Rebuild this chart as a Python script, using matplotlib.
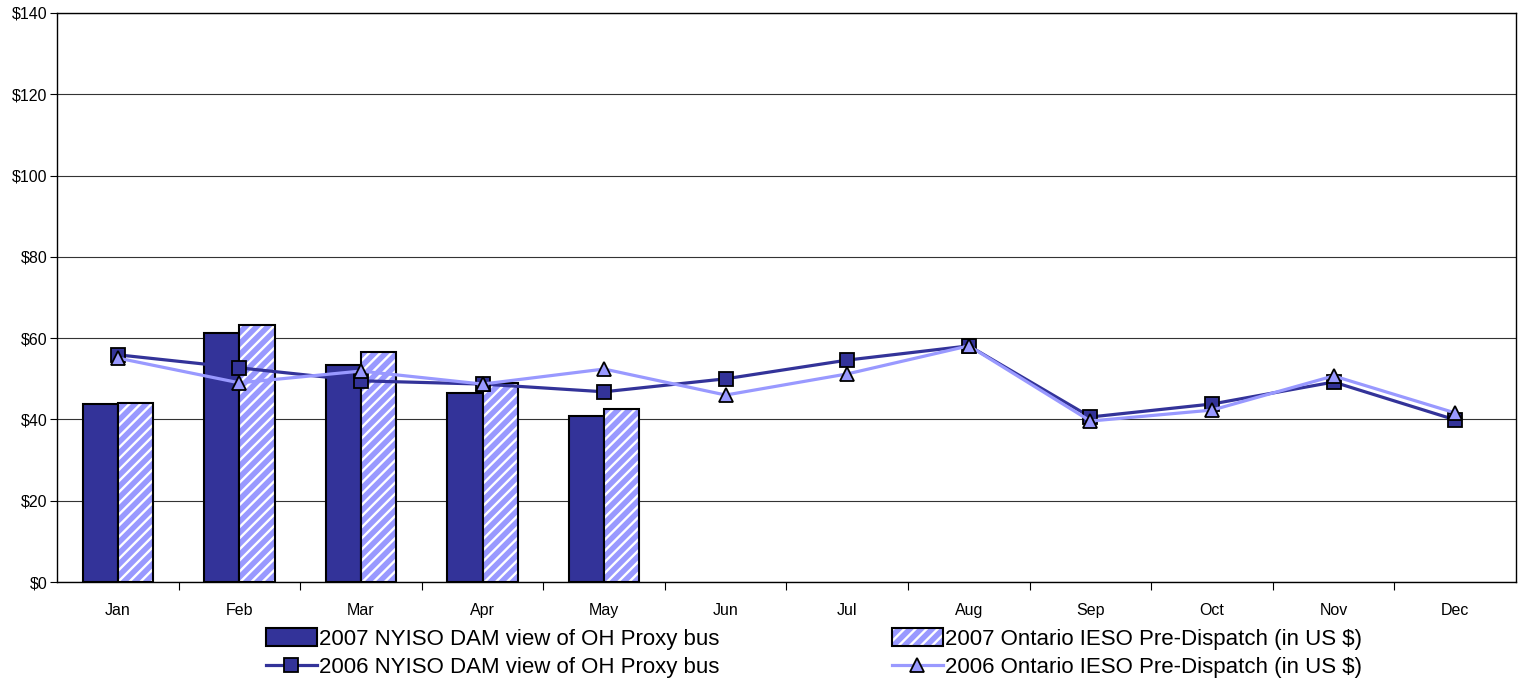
import numpy as np
import matplotlib
matplotlib.use("Agg")
import matplotlib.pyplot as plt
from matplotlib.patches import Patch
from matplotlib.lines import Line2D

plt.rcParams["font.family"] = ["Liberation Sans", "DejaVu Sans"]
plt.rcParams["hatch.linewidth"] = 1.7

months = ["Jan", "Feb", "Mar", "Apr", "May", "Jun",
          "Jul", "Aug", "Sep", "Oct", "Nov", "Dec"]

# 2007 monthly bars (Jan-May only)
nyiso_2007 = [43.8, 61.3, 53.4, 46.5, 40.8]
ieso_2007 = [44.0, 63.2, 56.6, 49.0, 42.6]

# 2006 monthly lines
nyiso_2006 = [55.9, 52.7, 49.5, 48.7, 46.8, 50.0, 54.6, 58.1, 40.6, 43.8, 49.2, 39.9]
ieso_2006 = [55.1, 49.0, 51.9, 48.7, 52.4, 46.0, 51.2, 58.1, 39.6, 42.3, 50.7, 41.6]

yticks = [0, 20, 40, 60, 80, 100, 120, 140]

DARK = "#333399"
LIGHT = "#9999FF"

fig = plt.figure(figsize=(15.25, 6.85), dpi=100)
ax = fig.add_axes([57 / 1525, 1 - 582 / 685, (1516 - 57) / 1525, (582 - 13) / 685])

x = np.arange(len(months))
w = 0.29
xb = np.arange(len(nyiso_2007))

ax.bar(xb - w / 2, nyiso_2007, width=w, color=DARK, edgecolor="black",
       linewidth=1.5, zorder=2)
# hatched bars: white stripes on light fill, then black outline on top
ax.bar(xb + w / 2, ieso_2007, width=w, color=LIGHT, edgecolor="white",
       hatch="///", linewidth=0, zorder=2)
ax.bar(xb + w / 2, ieso_2007, width=w, fill=False, edgecolor="black",
       linewidth=1.5, zorder=2.1)

ax.plot(x, nyiso_2006, color=DARK, lw=2.3, marker="s", ms=10,
        mfc=DARK, mec="black", mew=1.3, zorder=3)
ax.plot(x, ieso_2006, color=LIGHT, lw=2.3, marker="^", ms=10.5,
        mfc=LIGHT, mec="black", mew=1.3, zorder=4)

ax.set_xlim(-0.5, 11.5)
ax.set_ylim(0, 140)
ax.set_yticks(yticks)
ax.set_yticklabels([f"${v}" for v in yticks], fontsize=11.5)
ax.yaxis.grid(True, color="#333333", lw=0.8)
ax.set_axisbelow(True)
ax.tick_params(axis="y", length=5, width=0.8, pad=2)

ax.set_xticks(x)
ax.set_xticklabels(months, fontsize=11.5)
ax.set_xticks(np.arange(0.5, 11.5, 1), minor=True)
ax.tick_params(axis="x", which="major", length=0, pad=15)
ax.tick_params(axis="x", which="minor", length=6, width=0.8)

for s in ax.spines.values():
    s.set_color("black")
    s.set_linewidth(1.0)

h_bar1 = Patch(facecolor=DARK, edgecolor="black", linewidth=1.5)
h_bar2 = (Patch(facecolor=LIGHT, edgecolor="white", hatch="///", linewidth=0),
          Patch(fill=False, edgecolor="black", linewidth=1.5))
h_line1 = Line2D([], [], color=DARK, lw=2.3, marker="s", ms=10,
                 mfc=DARK, mec="black", mew=1.3)
h_line2 = Line2D([], [], color=LIGHT, lw=2.3, marker="^", ms=10.5,
                 mfc=LIGHT, mec="black", mew=1.3)

labels = ["2007 NYISO DAM view of OH Proxy bus",
          "2006 NYISO DAM view of OH Proxy bus",
          "2007 Ontario IESO Pre-Dispatch (in US $)",
          "2006 Ontario IESO Pre-Dispatch (in US $)"]
fig.legend([h_bar1, h_line1, h_bar2, h_line2], labels, ncol=2,
           loc="center", bbox_to_anchor=(814 / 1525, 1 - 653 / 685),
           frameon=False, fontsize=16, handlelength=2.3, handleheight=0.85,
           handletextpad=0.1, columnspacing=7.75, labelspacing=0.3,
           borderpad=0)

fig.savefig("out.png", dpi=100)
